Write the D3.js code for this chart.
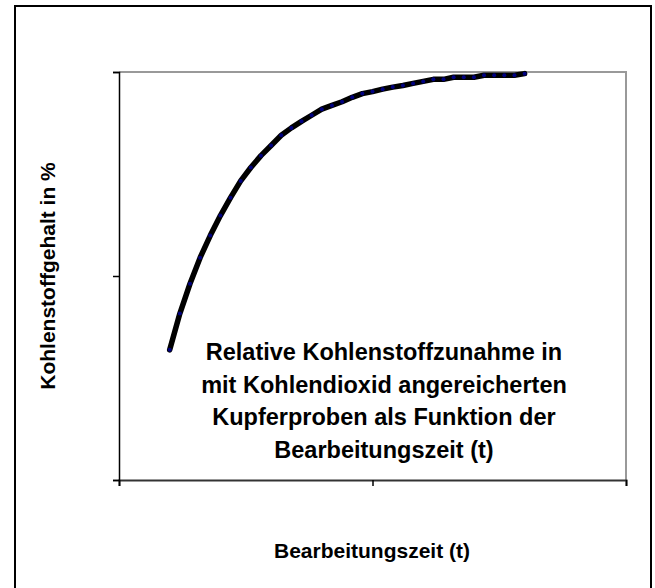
<!DOCTYPE html>
<html>
<head>
<meta charset="utf-8">
<script src="https://cdn.jsdelivr.net/npm/d3@7"></script>
<style>
  body { margin: 0; background: #fff; }
  text { font-family: Arial, "Liberation Sans", sans-serif; font-weight: bold; fill: #000; }
</style>
</head>
<body>
<script>
// Bearbeitungszeit (t) und relativer Kohlenstoffgehalt
const zeit = [5, 6, 7, 8, 9, 10, 11, 12, 13, 14, 15, 16, 17, 18, 19, 20, 21, 22, 23, 24,
  25, 26, 27, 28, 29, 30, 31, 32, 33, 34, 35, 36, 37, 38, 39, 40];
const gehalt = [31.9, 40.8, 48.1, 54.5, 59.9, 64.8, 69.2, 73.3, 76.6, 79.5,
  82.0, 84.5, 86.3, 87.9, 89.4, 90.9, 91.8, 92.7, 93.8, 94.7,
  95.2, 95.8, 96.3, 96.7, 97.2, 97.7, 98.2, 98.2, 98.7, 98.7,
  98.7, 99.2, 99.2, 99.2, 99.2, 99.6];
const xTicks = [0, 25, 50];
const yTicks = [0, 50, 100];
const titel = ['Relative Kohlenstoffzunahme in', 'mit Kohlendioxid angereicherten',
  'Kupferproben als Funktion der', 'Bearbeitungszeit (t)'];

const width = 655, height = 588;
const pLeft = 119, pRight = 626, pTop = 72, pBottom = 480;

const svg = d3.select('body').append('svg')
  .attr('width', width)
  .attr('height', height);

// aeusserer Rahmen
svg.append('rect')
  .attr('x', 15).attr('y', 6)
  .attr('width', 636).attr('height', 600)
  .attr('fill', 'none')
  .attr('stroke', '#000')
  .attr('stroke-width', 2);

const x = d3.scaleLinear().domain([0, 50]).range([pLeft, pRight]);
const y = d3.scaleLinear().domain([0, 100]).range([pBottom, pTop]);

// Plotflaeche: oben und rechts grau
svg.append('path')
  .attr('d', `M${pLeft},${pTop}H${pRight}V${pBottom}`)
  .attr('fill', 'none')
  .attr('stroke', '#999')
  .attr('stroke-width', 2);

const xAxis = svg.append('g')
  .attr('transform', `translate(0,${pBottom})`)
  .call(d3.axisBottom(x).tickValues(xTicks).tickSize(6).tickFormat(''));
xAxis.select('.domain').attr('stroke', '#333').attr('stroke-width', 2);
xAxis.selectAll('.tick line').attr('stroke', '#000').attr('stroke-width', 1.5);

const yAxis = svg.append('g')
  .attr('transform', `translate(${pLeft},0)`)
  .call(d3.axisLeft(y).tickValues(yTicks).tickSize(6).tickFormat(''));
yAxis.select('.domain').attr('stroke', '#000').attr('stroke-width', 1.5);
yAxis.selectAll('.tick line').attr('stroke', '#000').attr('stroke-width', 1.5);

const punkte = zeit.map((t, i) => [t, gehalt[i]]);

svg.append('path')
  .datum(punkte)
  .attr('fill', 'none')
  .attr('stroke', '#000')
  .attr('stroke-width', 5.5)
  .attr('stroke-linejoin', 'round')
  .attr('stroke-linecap', 'round')
  .attr('d', d3.line().x(d => x(d[0])).y(d => y(d[1])));

svg.selectAll('circle.m')
  .data(punkte)
  .enter()
  .append('circle')
  .attr('class', 'm')
  .attr('cx', d => x(d[0]))
  .attr('cy', d => y(d[1]))
  .attr('r', 2)
  .attr('fill', '#000080');

// Achsentitel
svg.append('text')
  .attr('transform', `translate(55,${(pTop + pBottom) / 2}) rotate(-90)`)
  .attr('text-anchor', 'middle')
  .attr('font-size', 21)
  .text('Kohlenstoffgehalt in %');

svg.append('text')
  .attr('x', 372).attr('y', 558)
  .attr('text-anchor', 'middle')
  .attr('font-size', 21)
  .text('Bearbeitungszeit (t)');

// Beschriftung im Diagramm
svg.selectAll('text.titel')
  .data(titel)
  .enter()
  .append('text')
  .attr('class', 'titel')
  .attr('x', 384)
  .attr('y', (d, i) => 360 + i * 32.7)
  .attr('text-anchor', 'middle')
  .attr('font-size', 23.5)
  .text(d => d);
</script>
</body>
</html>
